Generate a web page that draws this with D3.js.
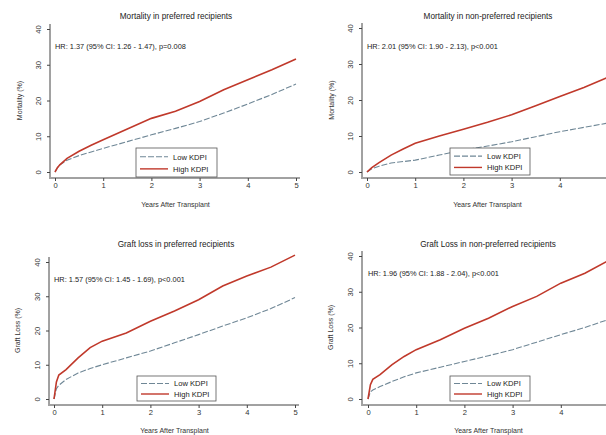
<!DOCTYPE html>
<html>
<head>
<meta charset="utf-8">
<script src="https://cdn.jsdelivr.net/npm/d3@7"></script>
<style>
  body { margin: 0; background: #fff; }
  svg { display: block; font-family: "Liberation Sans", Arial, sans-serif; }
  .axis path, .axis line { stroke: #444; }
  .axis text { fill: #333; font-size: 7.6px; }
</style>
</head>
<body>
<svg id="chart" width="606" height="435"></svg>
<script>
// years after transplant (shared grid for all curves)
const years = [0, 0.05, 0.1, 0.25, 0.5, 0.75, 1, 1.5, 2, 2.5, 3, 3.5, 4, 4.5, 5];
const xTicks = [0, 1, 2, 3, 4, 5];
const yTicks = [0, 10, 20, 30, 40];
const seriesNames = ["Low KDPI", "High KDPI"];

// cumulative incidence (%)
const mortPrefLow  = [0, 1.2, 2, 3.3, 4.6, 5.6, 6.6, 8.5, 10.4, 12.2, 14.1, 16.5, 19, 21.7, 24.6];
const mortPrefHigh = [0, 1.2, 2, 3.8, 5.8, 7.5, 9, 12, 15, 17, 19.7, 23, 25.8, 28.6, 31.6];
const mortNonLow   = [0, 0.5, 0.9, 1.6, 2.5, 2.9, 3.3, 4.7, 6.1, 7.2, 8.4, 9.8, 11.2, 12.4, 13.6];
const mortNonHigh  = [0, 0.6, 1.2, 2.6, 4.7, 6.4, 8, 10, 11.9, 13.8, 15.9, 18.4, 21, 23.5, 26.3];
const graftPrefLow  = [0, 3, 4, 5.7, 7.6, 8.9, 10, 12, 14, 16.4, 18.8, 21.3, 23.7, 26.4, 29.6];
const graftPrefHigh = [0, 5, 7, 8.6, 12, 15, 16.9, 19.3, 22.7, 25.7, 29, 33, 35.9, 38.5, 42];
const graftNonLow   = [0, 2, 2.5, 3.5, 4.9, 6.2, 7.3, 8.9, 10.5, 12.1, 13.8, 15.9, 18, 20, 22.3];
const graftNonHigh  = [0, 4, 5.5, 6.8, 9.6, 11.9, 13.8, 16.6, 19.8, 22.6, 25.9, 28.7, 32.4, 35.2, 38.8];

const titles = [
  "Mortality in preferred recipients",
  "Mortality in non-preferred recipients",
  "Graft loss in preferred recipients",
  "Graft Loss in non-preferred recipients"
];
const hrTexts = [
  "HR: 1.37 (95% CI: 1.26 - 1.47), p=0.008",
  "HR: 2.01 (95% CI: 1.90 - 2.13), p<0.001",
  "HR: 1.57 (95% CI: 1.45 - 1.69), p<0.001",
  "HR: 1.96 (95% CI: 1.88 - 2.04), p<0.001"
];
const yLabels = ["Mortality (%)", "Mortality (%)", "Graft Loss (%)", "Graft Loss (%)"];

const lowColor = "#6f8796";
const highColor = "#c0392b";

// panel layout (pixels)
const panels = [
  { axisX: 50, x0: 55, x5: 296, y0: 172, y40: 29, baseY: 178, top: 24, titleX: 176, titleY: 19, hrY: 49, labX: 22, xlabY: 207, leg: [136, 148, 81, 29], low: mortPrefLow, high: mortPrefHigh },
  { axisX: 362, x0: 367, x5: 608, y0: 172, y40: 28, baseY: 178, top: 23, titleX: 488, titleY: 19, hrY: 49, labX: 334, xlabY: 207, leg: [450, 148, 80, 27], low: mortNonLow, high: mortNonHigh },
  { axisX: 49, x0: 54, x5: 295, y0: 399, y40: 262, baseY: 405, top: 257, titleX: 176, titleY: 247, hrY: 282, labX: 20, xlabY: 433, leg: [137, 376, 79, 25], low: graftPrefLow, high: graftPrefHigh },
  { axisX: 362, x0: 368, x5: 609, y0: 399, y40: 256, baseY: 405, top: 251, titleX: 488, titleY: 247, hrY: 276, labX: 333, xlabY: 433, leg: [450, 376, 80, 25], low: graftNonLow, high: graftNonHigh }
];

const svg = d3.select("#chart");

panels.forEach((p, i) => {
  let g = svg.append("g");
  let x = d3.scaleLinear().domain([0, 5]).range([p.x0, p.x5]);
  let y = d3.scaleLinear().domain([0, 40]).range([p.y0, p.y40]);

  // y axis (Stata style: rotated labels)
  let yAx = g.append("g")
    .attr("class", "axis")
    .attr("transform", "translate(" + p.axisX + ",0)")
    .call(d3.axisLeft(y).tickValues(yTicks).tickFormat(d3.format("d")).tickSize(3).tickSizeOuter(0));
  yAx.select(".domain").attr("d", "M0," + (p.baseY - 1) + "V" + p.top);
  yAx.selectAll("text")
    .attr("transform", "rotate(-90)")
    .attr("x", 0).attr("y", -9)
    .attr("dy", "0")
    .style("text-anchor", "middle");

  // x axis
  let xAx = g.append("g")
    .attr("class", "axis")
    .attr("transform", "translate(0," + p.baseY + ")")
    .call(d3.axisBottom(x).tickValues(xTicks).tickFormat(d3.format("d")).tickSize(3).tickPadding(2).tickSizeOuter(0));
  xAx.select(".domain").attr("d", "M" + (p.axisX - 1) + ",0H" + (p.x5 + 4));

  // titles and labels
  g.append("text")
    .attr("x", p.titleX).attr("y", p.titleY)
    .attr("text-anchor", "middle")
    .attr("font-size", 8.2).attr("fill", "#222")
    .text(titles[i]);

  g.append("text")
    .attr("x", p.x0).attr("y", p.hrY)
    .attr("font-size", 7.4).attr("fill", "#222")
    .text(hrTexts[i]);

  g.append("text")
    .attr("transform", "translate(" + p.labX + "," + ((p.y0 + p.y40) / 2) + ") rotate(-90)")
    .attr("text-anchor", "middle")
    .attr("font-size", 7).attr("fill", "#333")
    .text(yLabels[i]);

  g.append("text")
    .attr("x", (p.x0 + p.x5) / 2).attr("y", p.xlabY)
    .attr("text-anchor", "middle")
    .attr("font-size", 7).attr("fill", "#333")
    .text("Years After Transplant");

  // curves
  let line = d3.line()
    .x((d, j) => x(years[j]))
    .y(d => y(d));

  g.append("path")
    .datum(p.low)
    .attr("fill", "none")
    .attr("stroke", lowColor)
    .attr("stroke-width", 1.1)
    .attr("stroke-dasharray", "6,2")
    .attr("d", line);

  g.append("path")
    .datum(p.high)
    .attr("fill", "none")
    .attr("stroke", highColor)
    .attr("stroke-width", 1.6)
    .attr("d", line);

  // legend
  let [lx, ly, lw, lh] = p.leg;
  let leg = g.append("g").attr("transform", "translate(" + lx + "," + ly + ")");
  leg.append("rect")
    .attr("width", lw).attr("height", lh)
    .attr("fill", "#fff").attr("stroke", "#555").attr("stroke-width", 0.8);
  seriesNames.forEach((name, k) => {
    let cy = lh * (k === 0 ? 0.3 : 0.72);
    leg.append("line")
      .attr("x1", 4).attr("x2", 32).attr("y1", cy).attr("y2", cy)
      .attr("stroke", k === 0 ? lowColor : highColor)
      .attr("stroke-width", k === 0 ? 1.1 : 1.4)
      .attr("stroke-dasharray", k === 0 ? "6,2" : null);
    leg.append("text")
      .attr("x", 37).attr("y", cy + 2.8)
      .attr("font-size", 7.6).attr("fill", "#222")
      .text(name);
  });
});
</script>
</body>
</html>
